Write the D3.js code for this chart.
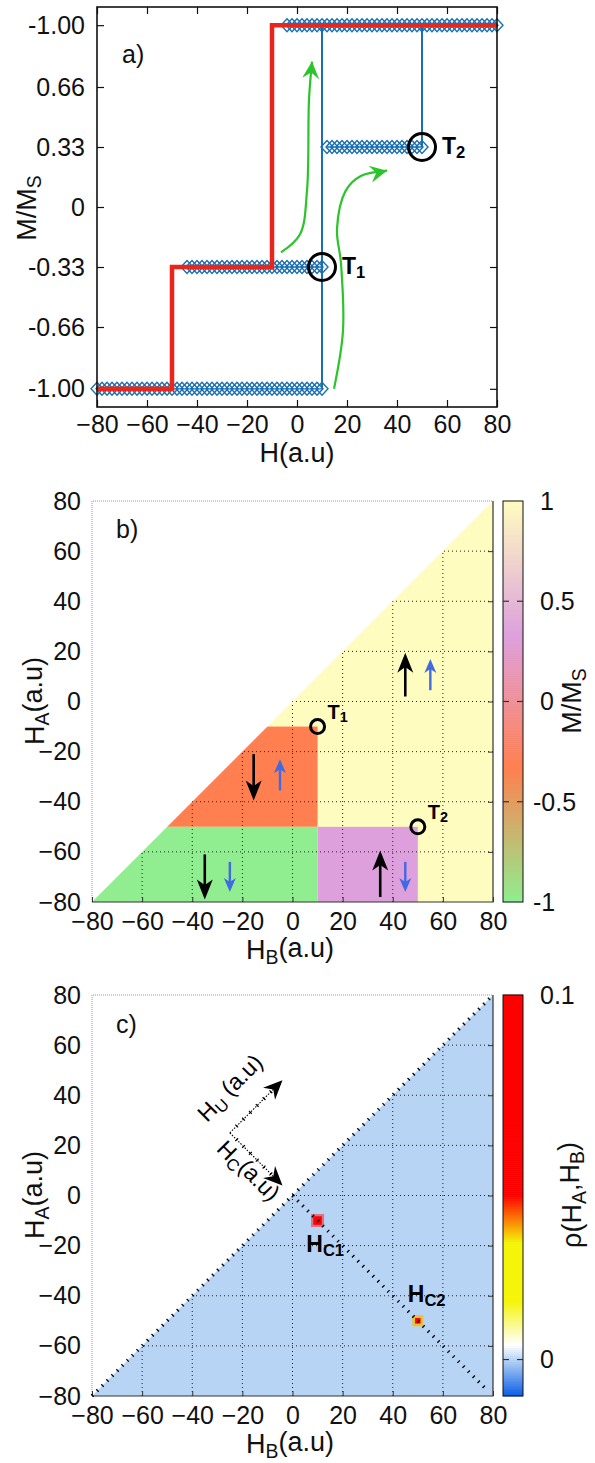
<!DOCTYPE html>
<html>
<head>
<meta charset="utf-8">
<script src="https://cdn.jsdelivr.net/npm/d3@7"></script>
<style>
body { margin: 0; background: #fff; }
svg { display: block; font-family: "Liberation Sans", Arial, Helvetica, sans-serif; }
.tick text { font-size: 25px; fill: #111; }
.ttl { font-size: 27px; fill: #111; }
.lbl { font-size: 25px; fill: #111; }
</style>
</head>
<body>
<svg width="595" height="1463"></svg>
<script>

// ---------- panel a : hysteresis loop ----------
var hTicks = [-80, -60, -40, -20, 0, 20, 40, 60, 80];
var mTicks = [1, 0.66, 0.33, 0, -0.33, -0.66, -1];
var mTickLabels = ["-1.00", "0.66", "0.33", "0", "-0.33", "-0.66", "-1.00"];

// descending major branch (red)
var downH = [80, -10, -10, -50, -50, -80];
var downM = [1, 1, -0.33, -0.33, -1, -1];

// ascending branches (blue diamonds), one M level each
var lowH = [-80,-78,-76,-74,-72,-70,-68,-66,-64,-62,-60,-58,-56,-54,-52,-50,-48,-46,-44,-42,-40,-38,-36,-34,-32,-30,-28,-26,-24,-22,-20,-18,-16,-14,-12,-10,-8,-6,-4,-2,0,2,4,6,8,10];
var midH = [-44,-42,-40,-38,-36,-34,-32,-30,-28,-26,-24,-22,-20,-18,-16,-14,-12,-10,-8,-6,-4,-2,0,2,4,6,8,10];
var upH = [12,14,16,18,20,22,24,26,28,30,32,34,36,38,40,42,44,46,48,50];
var topH = [-4,-2,0,2,4,6,8,10,12,14,16,18,20,22,24,26,28,30,32,34,36,38,40,42,44,46,48,50,52,54,56,58,60,62,64,66,68,70,72,74,76,78,80];
var branchH = [lowH, midH, upH, topH];
var branchM = [-1, -0.33, 0.33, 1];

// switching jumps
var jumpH = [10, 50];
var jumpFrom = [-1, 0.33];
var jumpTo = [1, 1];

// switching points T1, T2
var switchH = [10, 50];
var switchM = [-0.33, 0.33];

// green guide arrows (H, M)
var guide1H = [-6.4, 1.2, 4, 4.8, 6];
var guide1M = [-0.25, -0.15, 0.09, 0.59, 0.8];
var guide2H = [14.8, 18.4, 17.6, 16, 19.5, 25.5, 36];
var guide2M = [-1.0, -0.68, -0.31, -0.12, 0.09, 0.17, 0.2];

// ---------- panel b : M/Ms map ----------
var fieldTicks = [-80, -60, -40, -20, 0, 20, 40, 60, 80];
var regHB0 = [-80, -80, 10, -80];
var regHB1 = [80, 10, 50, 10];
var regHA0 = [-80, -50, -80, -80];
var regHA1 = [80, -10, -50, -50];
var regM = [1, -0.33, 0.33, -1];
var mStops = [-1, -0.33, 0.33, 1];
var mColors = ["#90ee90", "#ff7f50", "#dda0dd", "#fffcc0"];
var cbTicksB = [1, 0.5, 0, -0.5, -1];

// moment arrows in b (H_B, H_A from -> to)
var blackHB = [45, -15.5, -35, 35];
var blackHA0 = [2, -21, -61, -78];
var blackHA1 = [19.5, -39.5, -79, -59.5];
var blueHB = [55, -5, -25, 45];
var blueHA0 = [4.5, -35.5, -64, -64];
var blueHA1 = [17, -23, -76, -76];

// ---------- panel c : Preisach density ----------
var spotHB = [10, 50];
var spotHA = [-10, -50];
var spotRho = [0.1, 0.06];
var spotHaloRho = [0.1, 0.035];
var rhoStops = [-0.01, 0, 0.004, 0.016, 0.032, 0.045, 0.1];
var rhoColors = ["#0a5ee6", "#b8d4f4", "#ffffff", "#f5f50a", "#f5f50a", "#ff0000", "#ff0000"];
var cbTicksC = [0.1, 0];

var svg = d3.select("svg");

function arrow(g, x1, y1, x2, y2, color, len, wid, sw) {
  var a = Math.atan2(y2 - y1, x2 - x1);
  g.append("line")
    .attr("x1", x1).attr("y1", y1)
    .attr("x2", x2 - Math.cos(a) * len * 0.7).attr("y2", y2 - Math.sin(a) * len * 0.7)
    .attr("stroke", color).attr("stroke-width", sw);
  g.append("path")
    .attr("d", "M0,0L" + (-len) + "," + (-wid / 2) + "L" + (-len * 0.72) + ",0L" + (-len) + "," + (wid / 2) + "Z")
    .attr("transform", "translate(" + x2 + "," + y2 + ") rotate(" + (a * 180 / Math.PI) + ")")
    .attr("fill", color);
}

function subText(sel, parts) {
  // parts: [text, isSub]
  parts.forEach(function (p, i) {
    var t = sel.append("tspan").text(p[0]);
    if (p[1]) t.attr("dy", "0.25em").attr("font-size", "72%");
    else if (i > 0 && parts[i - 1][1]) t.attr("dy", "-0.25em");
  });
}

// ===== panel a =====
var xA = d3.scaleLinear().domain([-80, 80]).range([97, 497]);
var yA = d3.scaleLinear().domain([-1.1, 1.1]).range([407, 7]);
var gA = svg.append("g");

gA.append("g").attr("transform", "translate(0,407)")
  .call(d3.axisBottom(xA).tickValues(hTicks).tickSize(-7).tickPadding(8).tickFormat(d3.format("d")))
  .call(function (g) { g.select(".domain").remove(); });
gA.append("g").attr("transform", "translate(0,7)")
  .call(d3.axisTop(xA).tickValues(hTicks).tickSize(-7).tickFormat(""))
  .call(function (g) { g.select(".domain").remove(); });
gA.append("g").attr("transform", "translate(97,0)")
  .call(d3.axisLeft(yA).tickValues(mTicks).tickSize(-7).tickPadding(12)
    .tickFormat(function (d, i) { return mTickLabels[i]; }))
  .call(function (g) { g.select(".domain").remove(); });
gA.append("g").attr("transform", "translate(497,0)")
  .call(d3.axisRight(yA).tickValues(mTicks).tickSize(-7).tickFormat(""))
  .call(function (g) { g.select(".domain").remove(); });
gA.selectAll(".tick line").attr("stroke", "#111").attr("stroke-width", 1.2);

// blue branches
var diamond = "M-6,0L0,-6.5L6,0L0,6.5Z";
branchH.forEach(function (hs, k) {
  gA.append("path")
    .attr("d", d3.line()(hs.map(function (h) { return [xA(h), yA(branchM[k])]; })))
    .attr("stroke", "#1a6fb0").attr("stroke-width", 1.3).attr("fill", "none");
  gA.selectAll(null).data(hs).enter().append("path")
    .attr("d", diamond)
    .attr("transform", function (h) { return "translate(" + xA(h) + "," + yA(branchM[k]) + ")"; })
    .attr("fill", "none").attr("stroke", "#1a6fb0").attr("stroke-width", 1.4);
});
jumpH.forEach(function (h, i) {
  gA.append("line")
    .attr("x1", xA(h)).attr("x2", xA(h))
    .attr("y1", yA(jumpFrom[i])).attr("y2", yA(jumpTo[i]))
    .attr("stroke", "#1a6fb0").attr("stroke-width", 2);
});

// red descending branch
gA.append("path")
  .attr("d", d3.line()(downH.map(function (h, i) { return [xA(h), yA(downM[i])]; })))
  .attr("fill", "none").attr("stroke", "#e8261c").attr("stroke-width", 4.5)
  .attr("stroke-linejoin", "miter");

// green guide arrows
[[guide1H, guide1M], [guide2H, guide2M]].forEach(function (gd) {
  var pts = gd[0].map(function (h, i) { return [xA(h), yA(gd[1][i])]; });
  var n = pts.length;
  var a = Math.atan2(pts[n - 1][1] - pts[n - 2][1], pts[n - 1][0] - pts[n - 2][0]);
  gA.append("path")
    .attr("d", d3.line().curve(d3.curveCatmullRom)(pts))
    .attr("fill", "none").attr("stroke", "#2bc42b").attr("stroke-width", 2.2);
  gA.append("path")
    .attr("d", "M0,0L-17,-8.5L-11,0L-17,8.5Z")
    .attr("transform", "translate(" + pts[n - 1][0] + "," + pts[n - 1][1] + ") rotate(" + (a * 180 / Math.PI) + ")")
    .attr("fill", "#2bc42b");
});

// T1, T2 circles
switchH.forEach(function (h, i) {
  gA.append("circle").attr("cx", xA(h)).attr("cy", yA(switchM[i])).attr("r", 13.5)
    .attr("fill", "none").attr("stroke", "#000").attr("stroke-width", 3);
  var t = gA.append("text").attr("x", xA(h) + 20).attr("y", yA(switchM[i]) + 7)
    .attr("font-size", 23).attr("font-weight", "bold");
  subText(t, [["T", 0], [String(i + 1), 1]]);
});

gA.append("rect").attr("x", 97).attr("y", 7).attr("width", 400).attr("height", 400)
  .attr("fill", "none").attr("stroke", "#111").attr("stroke-width", 1.6);

gA.append("text").attr("class", "lbl").attr("font-size", 27).attr("x", 122).attr("y", 63).text("a)");
gA.append("text").attr("class", "ttl").attr("x", 297).attr("y", 462).attr("text-anchor", "middle").text("H(a.u)");
var tA = gA.append("text").attr("class", "ttl").attr("text-anchor", "middle")
  .attr("transform", "translate(36,208) rotate(-90)");
subText(tA, [["M/M", 0], ["S", 1]]);

// ===== shared helpers for b and c =====
function mapPanel(top, clipId) {
  var x = d3.scaleLinear().domain([-80, 80]).range([92, 493]);
  var y = d3.scaleLinear().domain([-80, 80]).range([top + 401, top]);
  var g = svg.append("g");
  var tri = [[-80, -80], [80, 80], [80, -80]].map(function (p) { return [x(p[0]), y(p[1])]; });
  g.append("clipPath").attr("id", clipId).append("path").attr("d", "M" + tri.join("L") + "Z");
  return { x: x, y: y, g: g, tri: tri, clip: clipId };
}

function mapFrame(P, top) {
  var x = P.x, y = P.y, g = P.g;
  // grid inside the triangle
  var grid = g.append("g").attr("clip-path", "url(#" + P.clip + ")");
  fieldTicks.slice(1, -1).forEach(function (v) {
    grid.append("line").attr("x1", x(v)).attr("x2", x(v)).attr("y1", y(-80)).attr("y2", y(80));
    grid.append("line").attr("y1", y(v)).attr("y2", y(v)).attr("x1", x(-80)).attr("x2", x(80));
  });
  grid.selectAll("line").attr("stroke", "#222").attr("stroke-width", 1).attr("stroke-dasharray", "1,3");
  // frame
  g.append("path").attr("d", "M" + x(-80) + "," + y(-80) + "V" + y(80) + "H" + x(80))
    .attr("fill", "none").attr("stroke", "#999").attr("stroke-width", 1).attr("stroke-dasharray", "1,1");
  g.append("path").attr("d", "M" + x(-80) + "," + y(-80) + "H" + x(80) + "V" + y(80))
    .attr("fill", "none").attr("stroke", "#333").attr("stroke-width", 1.2);
  g.append("g").attr("transform", "translate(0," + y(-80) + ")")
    .call(d3.axisBottom(x).tickValues(fieldTicks).tickSize(-5).tickPadding(10))
    .call(function (a) { a.select(".domain").remove(); });
  g.append("g").attr("transform", "translate(" + x(-80) + ",0)")
    .call(d3.axisLeft(y).tickValues(fieldTicks).tickSize(0).tickPadding(11))
    .call(function (a) { a.select(".domain").remove(); });
  g.append("g").attr("transform", "translate(" + x(80) + ",0)")
    .call(d3.axisRight(y).tickValues(fieldTicks.slice(1, -1)).tickSize(-5).tickFormat(""))
    .call(function (a) { a.select(".domain").remove(); });
  g.selectAll(".tick line").attr("stroke", "#333");
  var tx = g.append("text").attr("class", "ttl").attr("x", 290).attr("y", top + 458).attr("text-anchor", "middle");
  subText(tx, [["H", 0], ["B", 1], ["(a.u)", 0]]);
  var ty = g.append("text").attr("class", "ttl").attr("text-anchor", "middle")
    .attr("transform", "translate(44," + (top + 200) + ") rotate(-90)");
  subText(ty, [["H", 0], ["A", 1], ["(a.u)", 0]]);
}

function colorBar(g, top, domain, color, ticks, fmt, dashes, parts) {
  var yc = d3.scaleLinear().domain(domain).range([top + 401, top]);
  var n = 200;
  var vals = d3.range(n).map(function (i) { return domain[0] + (domain[1] - domain[0]) * (i + 0.5) / n; });
  g.selectAll(null).data(vals).enter().append("rect")
    .attr("x", 503).attr("width", 20)
    .attr("y", function (v) { return yc(v) - 401 / n / 2 - 0.3; })
    .attr("height", 401 / n + 0.6)
    .attr("fill", function (v) { return color(v); });
  g.append("rect").attr("x", 503).attr("y", top).attr("width", 20).attr("height", 401)
    .attr("fill", "none").attr("stroke", "#111").attr("stroke-width", 1);
  dashes.forEach(function (v) {
    g.append("line").attr("x1", 503).attr("x2", 509).attr("y1", yc(v)).attr("y2", yc(v)).attr("stroke", "#333").attr("stroke-width", 1.2);
    g.append("line").attr("x1", 517).attr("x2", 523).attr("y1", yc(v)).attr("y2", yc(v)).attr("stroke", "#333").attr("stroke-width", 1.2);
  });
  ticks.forEach(function (v) {
    g.append("text").attr("class", "lbl").attr("x", v < 0 ? 533 : 540).attr("y", yc(v)).attr("dy", "0.35em").text(fmt(v));
  });
  var t = g.append("text").attr("class", "ttl").attr("text-anchor", "middle")
    .attr("transform", "translate(581," + (top + 200) + ") rotate(-90)");
  subText(t, parts);
}

// ===== panel b =====
var mColor = d3.scaleLinear().domain(mStops).range(mColors);
var B = mapPanel(501, "triB");
var regs = B.g.append("g").attr("clip-path", "url(#triB)");
regM.forEach(function (m, i) {
  regs.append("rect")
    .attr("x", B.x(regHB0[i])).attr("width", B.x(regHB1[i]) - B.x(regHB0[i]))
    .attr("y", B.y(regHA1[i])).attr("height", B.y(regHA0[i]) - B.y(regHA1[i]))
    .attr("fill", mColor(m));
});
mapFrame(B, 501);

blackHB.forEach(function (h, i) {
  arrow(B.g, B.x(h), B.y(blackHA0[i]), B.x(h), B.y(blackHA1[i]), "#000", 20, 16, 2.6);
});
blueHB.forEach(function (h, i) {
  arrow(B.g, B.x(h), B.y(blueHA0[i]), B.x(h), B.y(blueHA1[i]), "#4169e1", 14, 12, 2.4);
});
switchH.forEach(function (h, i) {
  var cx = B.x(h), cy = B.y(i === 0 ? -10 : -50);
  B.g.append("circle").attr("cx", cx).attr("cy", cy).attr("r", 7)
    .attr("fill", "none").attr("stroke", "#000").attr("stroke-width", 3);
  var t = B.g.append("text").attr("x", cx + 10).attr("y", cy - 8).attr("font-size", 20).attr("font-weight", "bold");
  subText(t, [["T", 0], [String(i + 1), 1]]);
});
B.g.append("text").attr("class", "lbl").attr("font-size", 27).attr("x", 116).attr("y", 538).text("b)");
colorBar(B.g, 501, [-1, 1], mColor, cbTicksB, function (v) { return String(v); }, [0.5, 0, -0.5],
  [["M/M", 0], ["S", 1]]);

// ===== panel c =====
var rhoColor = d3.scaleLinear().domain(rhoStops).range(rhoColors);
var C = mapPanel(995, "triC");
C.g.append("path").attr("d", "M" + C.tri.join("L") + "Z").attr("fill", rhoColor(0));
mapFrame(C, 995);

spotHB.forEach(function (h, i) {
  var cx = C.x(h), cy = C.y(spotHA[i]);
  var w1 = C.x(i === 0 ? 2.6 : 2.2) - C.x(0), w0 = C.x(i === 0 ? 1.7 : 1.1) - C.x(0);
  C.g.append("rect").attr("x", cx - w1).attr("y", cy - w1).attr("width", 2 * w1).attr("height", 2 * w1)
    .attr("fill", rhoColor(spotHaloRho[i])).attr("opacity", i === 0 ? 0.45 : 0.8);
  C.g.append("rect").attr("x", cx - w0).attr("y", cy - w0).attr("width", 2 * w0).attr("height", 2 * w0)
    .attr("fill", rhoColor(spotRho[i]));
});

// diagonal H_A = H_B and the H_C axis through the two switching fields
C.g.append("line").attr("x1", C.x(-80)).attr("y1", C.y(-80)).attr("x2", C.x(80)).attr("y2", C.y(80))
  .attr("stroke", "#000").attr("stroke-width", 3.5).attr("stroke-dasharray", "1.3,5.8");
C.g.append("line").attr("x1", C.x(0)).attr("y1", C.y(0)).attr("x2", C.x(78)).attr("y2", C.y(-78))
  .attr("stroke", "#000").attr("stroke-width", 3.5).attr("stroke-dasharray", "1.3,5.8");

// rotated H_U / H_C coordinate axes
var oX = C.x(-25), oY = C.y(25);
[[-4, 46], [-4, 4]].forEach(function (e) {
  var ex = C.x(e[0]), ey = C.y(e[1]);
  var a = Math.atan2(ey - oY, ex - oX);
  C.g.append("line").attr("x1", oX).attr("y1", oY)
    .attr("x2", ex - Math.cos(a) * 10).attr("y2", ey - Math.sin(a) * 10)
    .attr("stroke", "#000").attr("stroke-width", 1.1).attr("stroke-dasharray", "1.5,1.5");
  [0.13, 0.26, 0.39, 0.52, 0.65, 0.78].forEach(function (f) {
    var px = oX + (ex - oX) * f, py = oY + (ey - oY) * f;
    C.g.append("line")
      .attr("x1", px - Math.sin(a) * 2).attr("y1", py + Math.cos(a) * 2)
      .attr("x2", px + Math.sin(a) * 2).attr("y2", py - Math.cos(a) * 2)
      .attr("stroke", "#000").attr("stroke-width", 1.2);
  });
  C.g.append("path").attr("d", "M0,0L-19,-8.5L-13,0L-19,8.5Z")
    .attr("transform", "translate(" + ex + "," + ey + ") rotate(" + (a * 180 / Math.PI) + ")")
    .attr("fill", "#000");
});
var tU = C.g.append("text").attr("font-size", 23).attr("text-anchor", "middle")
  .attr("transform", "translate(" + C.x(-22.5) + "," + C.y(40.5) + ") rotate(-45)");
subText(tU, [["H", 0], ["U", 1], [" (a.u)", 0]]);
var tC = C.g.append("text").attr("font-size", 23).attr("text-anchor", "middle")
  .attr("transform", "translate(" + C.x(-20) + "," + C.y(7.5) + ") rotate(45)");
subText(tC, [["H", 0], ["C", 1], ["(a.u)", 0]]);

var h1 = C.g.append("text").attr("x", C.x(5.5)).attr("y", C.y(-22.5)).attr("font-size", 23).attr("font-weight", "bold");
subText(h1, [["H", 0], ["C1", 1]]);
var h2 = C.g.append("text").attr("x", C.x(46)).attr("y", C.y(-42.5)).attr("font-size", 23).attr("font-weight", "bold");
subText(h2, [["H", 0], ["C2", 1]]);
C.g.append("text").attr("class", "lbl").attr("font-size", 27).attr("x", 116).attr("y", 1033).text("c)");

colorBar(C.g, 995, [-0.01, 0.1], rhoColor, cbTicksC, function (v) { return String(v); }, [0],
  [["\u03c1(H", 0], ["A", 1], [",H", 0], ["B", 1], [")", 0]]);

</script>
</body>
</html>
